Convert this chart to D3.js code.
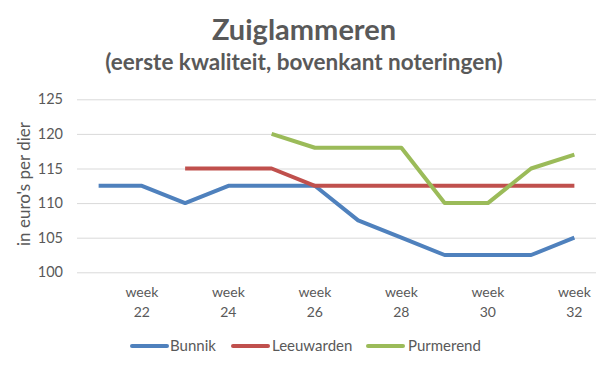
<!DOCTYPE html>
<html>
<head>
<meta charset="utf-8">
<script src="https://cdn.jsdelivr.net/npm/d3@7"></script>
<style>
  body { margin: 0; background: #fff; }
  text { font-family: Lato, "Open Sans", sans-serif; fill: #595959; }
</style>
</head>
<body>
<div id="chart"></div>
<script>
// data
var weeks = [21, 22, 23, 24, 25, 26, 27, 28, 29, 30, 31, 32];
var bunnik = [112.5, 112.5, 110, 112.5, 112.5, 112.5, 107.5, 105, 102.5, 102.5, 102.5, 105];
var leeuwarden = [null, null, 115, 115, 115, 112.5, 112.5, 112.5, 112.5, 112.5, 112.5, 112.5];
var purmerend = [null, null, null, null, 120, 118, 118, 118, 110, 110, 115, 117];
var yTicks = [100, 105, 110, 115, 120, 125];
var seriesNames = ["Bunnik", "Leeuwarden", "Purmerend"];
var seriesColors = ["#4f81bd", "#c0504d", "#9bbb59"];

var W = 610, H = 367;
var svg = d3.select("#chart").append("svg").attr("width", W).attr("height", H);

var x = d3.scaleBand().domain(weeks).range([77, 596]);
var y = d3.scaleLinear().domain([100, 125]).range([272.3, 99.3]);

// titles
svg.append("text").attr("x", 304).attr("y", 39.5).attr("text-anchor", "middle")
   .style("font-size", "29px").style("font-weight", "bold").text("Zuiglammeren");
svg.append("text").attr("x", 304).attr("y", 70).attr("text-anchor", "middle")
   .style("font-size", "22.5px").style("font-weight", "bold").text("(eerste kwaliteit, bovenkant noteringen)");

// grid
var yAxis = d3.axisLeft(y).tickValues(yTicks).tickSize(-(596 - 77)).tickPadding(14);
var gy = svg.append("g").attr("transform", "translate(77,0)").call(yAxis);
gy.select(".domain").remove();
gy.selectAll(".tick line").attr("stroke", "#d9d9d9");
gy.selectAll(".tick text").style("font-size", "14.5px").attr("fill", "#595959")
   .style("font-family", "Lato, sans-serif");

// x labels (every second week)
var xl = svg.append("g").selectAll("text").data(weeks.filter(function(w){ return w % 2 == 0; }))
   .enter().append("text")
   .attr("text-anchor", "middle")
   .style("font-size", "14px");
xl.append("tspan").attr("x", function(d){ return x(d) + x.bandwidth() / 2; }).attr("y", 297).text("week");
xl.append("tspan").attr("x", function(d){ return x(d) + x.bandwidth() / 2; }).attr("y", 316.5).text(function(d){ return d; });

// y title
svg.append("text").attr("transform", "translate(30,184) rotate(-90)").attr("text-anchor", "middle")
   .style("font-size", "17px").text("in euro's per dier");

// lines
var allSeries = [bunnik, leeuwarden, purmerend];
var line = d3.line()
   .defined(function(d){ return d != null; })
   .x(function(d, i){ return x(weeks[i]) + x.bandwidth() / 2; })
   .y(function(d){ return y(d); });

svg.append("g").selectAll("path").data(allSeries).enter().append("path")
   .attr("d", line)
   .attr("fill", "none")
   .attr("stroke", function(d, i){ return seriesColors[i]; })
   .attr("stroke-width", 4)
   .attr("stroke-linejoin", "round");

// legend
var legendX = [132, 233, 368];
var legendTextX = [38, 39, 40];
var lg = svg.append("g").selectAll("g").data(seriesNames).enter().append("g")
   .attr("transform", function(d, i){ return "translate(" + legendX[i] + ",346)"; });
lg.append("line").attr("x1", 0).attr("x2", 35).attr("y1", 0).attr("y2", 0)
   .attr("stroke", function(d, i){ return seriesColors[i]; }).attr("stroke-width", 4).attr("stroke-linecap", "round");
lg.append("text").attr("x", function(d, i){ return legendTextX[i]; }).attr("y", 5)
   .style("font-size", "15px").text(function(d){ return d; });
</script>
</body>
</html>
